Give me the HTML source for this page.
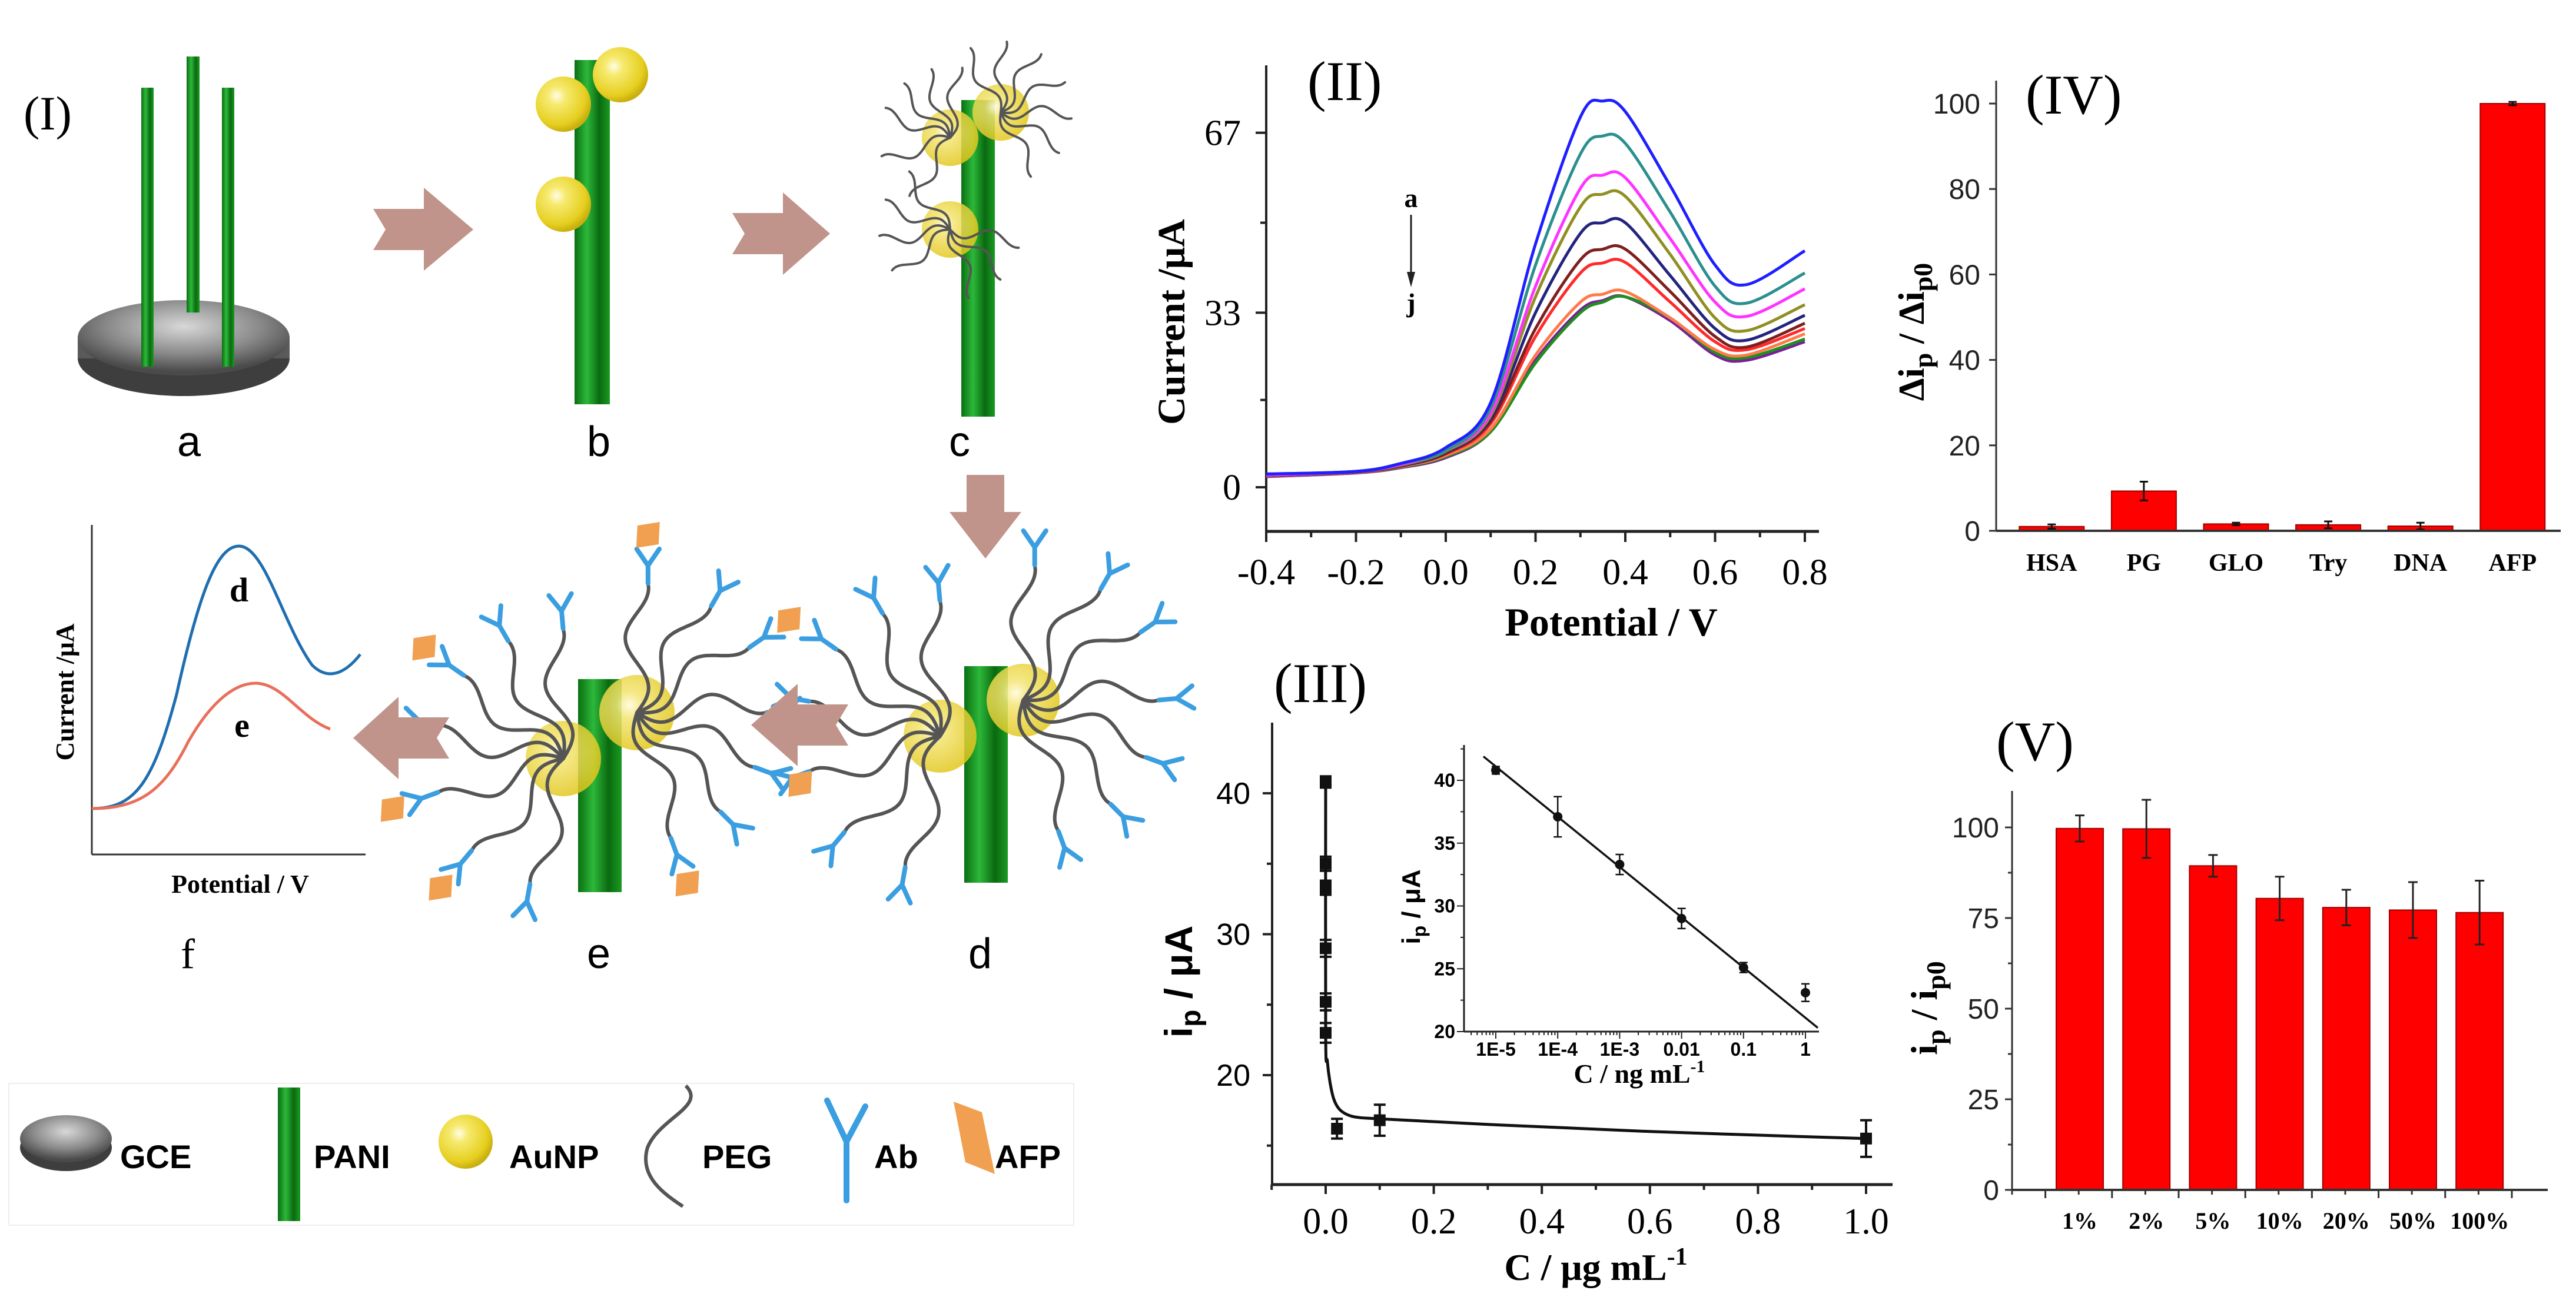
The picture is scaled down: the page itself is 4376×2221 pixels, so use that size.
<!DOCTYPE html>
<html><head><meta charset="utf-8">
<style>
html,body{margin:0;padding:0;background:#fff;}
svg{display:block;}
.serif{font-family:"Liberation Serif",serif;}
.sans{font-family:"Liberation Sans",sans-serif;}
</style></head>
<body>
<svg id="fig" xmlns="http://www.w3.org/2000/svg" width="4376" height="2221" viewBox="0 0 4376 2221">
<defs>
<linearGradient id="rodG" x1="0" y1="0" x2="1" y2="0">
<stop offset="0" stop-color="#0b6e12"/><stop offset="0.35" stop-color="#2db83a"/><stop offset="0.7" stop-color="#0a6a10"/><stop offset="1" stop-color="#1a9a22"/></linearGradient>
<radialGradient id="ballG" cx="0.38" cy="0.35" r="0.65">
<stop offset="0" stop-color="#fffde8"/><stop offset="0.25" stop-color="#f6ea70"/><stop offset="0.8" stop-color="#e6cf20"/><stop offset="1" stop-color="#c9b010"/></radialGradient>
<radialGradient id="ballG2" cx="0.4" cy="0.4" r="0.6">
<stop offset="0" stop-color="#fffbe0" stop-opacity="0.95"/><stop offset="0.3" stop-color="#f3e470" stop-opacity="0.85"/><stop offset="1" stop-color="#e2c820" stop-opacity="0.85"/></radialGradient>
<radialGradient id="diskG" cx="0.5" cy="0.35" r="0.6">
<stop offset="0" stop-color="#d8d8d8"/><stop offset="0.6" stop-color="#8a8a8a"/><stop offset="1" stop-color="#4a4a4a"/></radialGradient>
</defs>

<!-- ================= Panel I schematic ================= -->
<g id="panel1">
<text x="40" y="220" class="serif" font-size="82">(I)</text>

<g>
<ellipse cx="312" cy="609" rx="180" ry="64" fill="#3e3e3e"/>
<rect x="132" y="574" width="360" height="35" fill="#5a5a5a"/>
<ellipse cx="312" cy="574" rx="180" ry="64" fill="url(#diskG)"/>
<rect x="240" y="149" width="21" height="474" fill="url(#rodG)"/>
<rect x="317" y="96" width="22" height="435" fill="url(#rodG)"/>
<rect x="377" y="149" width="21" height="474" fill="url(#rodG)"/>
</g>
<text x="321" y="775" text-anchor="middle" class="sans" font-size="72">a</text>

<g>
<rect x="976" y="102" width="60" height="585" fill="url(#rodG)"/>
<circle cx="957" cy="177" r="47" fill="url(#ballG)"/>
<circle cx="1054" cy="127" r="47" fill="url(#ballG)"/>
<circle cx="957" cy="347" r="47" fill="url(#ballG)"/>
</g>
<text x="1017" y="775" text-anchor="middle" class="sans" font-size="72">b</text>

<g id="stepC">
<rect x="1633" y="170" width="57" height="538" fill="url(#rodG)"/>
<circle cx="1614" cy="234" r="48" fill="url(#ballG2)"/>
<circle cx="1700" cy="191" r="48" fill="url(#ballG2)"/>
<circle cx="1614" cy="390" r="48" fill="url(#ballG2)"/>
</g>
<text x="1630" y="775" text-anchor="middle" class="sans" font-size="72">c</text>

<g id="stepD">
<rect x="1638" y="1132" width="74" height="368" fill="url(#rodG)"/>
<circle cx="1597" cy="1251" r="62" fill="url(#ballG2)"/>
<circle cx="1738" cy="1190" r="62" fill="url(#ballG2)"/>
</g>
<text x="1665" y="1645" text-anchor="middle" class="sans" font-size="72">d</text>

<g id="stepE">
<rect x="982" y="1154" width="74" height="362" fill="url(#rodG)"/>
<circle cx="957" cy="1289" r="64" fill="url(#ballG2)"/>
<circle cx="1082" cy="1211" r="64" fill="url(#ballG2)"/>
</g>
<text x="1017" y="1645" text-anchor="middle" class="sans" font-size="72">e</text>

<g fill="#c0948a">
<polygon points="634,355 720,355 720,319 804,390 720,460 720,425 634,425 655,390"/>
<polygon points="1244,362 1330,362 1330,327 1410,397 1330,467 1330,432 1244,432 1265,397"/>
<polygon points="1642,807 1706,807 1706,870 1735,870 1674,949 1613,870 1642,870"/>
<polygon points="1441,1197 1355,1197 1355,1162 1276,1232 1355,1302 1355,1267 1441,1267 1420,1232"/>
<polygon points="763,1219 677,1219 677,1184 600,1254 677,1324 677,1289 763,1289 742,1254"/>
</g>

<g>
<line x1="156" y1="892" x2="156" y2="1452" stroke="#333" stroke-width="3"/>
<line x1="156" y1="1452" x2="621" y2="1452" stroke="#333" stroke-width="3"/>
<path d="M156,1374 C230,1374 260,1330 300,1180 C340,1000 370,928 406,928 C450,928 480,1060 530,1130 C560,1160 590,1140 612,1112" fill="none" stroke="#1f6eb0" stroke-width="5"/>
<path d="M156,1374 C240,1374 280,1340 320,1260 C360,1190 400,1161 434,1161 C480,1161 510,1220 561,1239" fill="none" stroke="#e8705a" stroke-width="5"/>
<text x="406" y="1022" text-anchor="middle" class="serif" font-weight="bold" font-size="58">d</text>
<text x="411" y="1252" text-anchor="middle" class="serif" font-weight="bold" font-size="58">e</text>
<text transform="translate(125,1176) rotate(-90)" text-anchor="middle" class="serif" font-weight="bold" font-size="44">Current /μA</text>
<text x="408" y="1517" text-anchor="middle" class="serif" font-weight="bold" font-size="44">Potential / V</text>
</g>
<text x="319" y="1645" text-anchor="middle" class="serif" font-size="72">f</text>

<g>
<rect x="15" y="1841" width="1809" height="241" fill="none" stroke="#eee" stroke-width="2"/>
<g>
<ellipse cx="112" cy="1950" rx="78" ry="40" fill="#3e3e3e"/>
<ellipse cx="112" cy="1935" rx="78" ry="40" fill="url(#diskG)"/>
<text x="204" y="1985" class="sans" font-weight="bold" font-size="56">GCE</text>
</g>
<g>
<rect x="472" y="1848" width="38" height="227" fill="url(#rodG)"/>
<text x="533" y="1985" class="sans" font-weight="bold" font-size="56">PANI</text>
</g>
<g>
<circle cx="791" cy="1940" r="46" fill="url(#ballG)"/>
<text x="865" y="1985" class="sans" font-weight="bold" font-size="56">AuNP</text>
</g>
<g>
<path d="M1165,1845 C1200,1880 1120,1900 1100,1950 C1085,2000 1130,2030 1160,2050" fill="none" stroke="#555" stroke-width="6"/>
<text x="1193" y="1985" class="sans" font-weight="bold" font-size="56">PEG</text>
</g>
<g>
<path d="M1438,2040 L1438,1940 L1405,1870 M1438,1940 L1470,1880" fill="none" stroke="#3a9ee0" stroke-width="10" stroke-linecap="round"/>
<text x="1485" y="1985" class="sans" font-weight="bold" font-size="56">Ab</text>
</g>
<g>
<polygon points="1620,1872 1668,1890 1690,1995 1640,1975" fill="#f0a050"/>
<text x="1690" y="1985" class="sans" font-weight="bold" font-size="56">AFP</text>
</g>
</g>
</g>

<!-- ================= Panel II ================= -->
<g id="panel2">
<text x="2221" y="170" class="serif" font-size="95">(II)</text>
<text transform="translate(2012,547) rotate(-90)" text-anchor="middle" class="serif" font-weight="bold" font-size="66">Current /μA</text>
<text x="2737" y="1080" text-anchor="middle" class="serif" font-weight="bold" font-size="68">Potential / V</text>
<text x="2397" y="352" text-anchor="middle" class="serif" font-weight="bold" font-size="46">a</text>
<line x1="2397" y1="365" x2="2397" y2="470" stroke="#222" stroke-width="3"/>
<polygon points="2390,462 2404,462 2397,488" fill="#222"/>
<text x="2397" y="530" text-anchor="middle" class="serif" font-weight="bold" font-size="46">j</text>
</g>

<!-- ================= Panel III ================= -->
<g id="panel3">
<text x="2164" y="1193" class="serif" font-size="95">(III)</text>
<text transform="translate(2025,1668) rotate(-90)" text-anchor="middle" class="sans" font-weight="bold" font-size="66">i<tspan font-size="48" dy="14">p</tspan><tspan dy="-14"> / μA</tspan></text>
<text x="2711" y="2175" text-anchor="middle" class="serif" font-weight="bold" font-size="64">C / μg mL<tspan font-size="42" dy="-26">-1</tspan></text>
<text transform="translate(2412,1541) rotate(-90)" text-anchor="middle" class="sans" font-weight="bold" font-size="44">i<tspan font-size="32" dy="10">p</tspan><tspan dy="-10"> / μA</tspan></text>
<text x="2785" y="1840" text-anchor="middle" class="serif" font-weight="bold" font-size="46">C / ng mL<tspan font-size="30" dy="-18">-1</tspan></text>
</g>

<!-- ================= Panel IV ================= -->
<g id="panel4">
<text x="3441" y="193" class="serif" font-size="95">(IV)</text>
<text transform="translate(3268,564) rotate(-90)" text-anchor="middle" class="serif" font-weight="bold" font-size="62">Δi<tspan font-size="46" dy="14">p</tspan><tspan dy="-14"> / Δi</tspan><tspan font-size="46" dy="14">p0</tspan></text>
</g>

<!-- ================= Panel V ================= -->
<g id="panel5">
<text x="3391" y="1292" class="serif" font-size="95">(V)</text>
<text transform="translate(3290,1713) rotate(-90)" text-anchor="middle" class="serif" font-weight="bold" font-size="64">i<tspan font-size="46" dy="14">p</tspan><tspan dy="-14"> / i</tspan><tspan font-size="46" dy="14">p0</tspan></text>
</g>
</svg>

<script>
// ---------- Panel II data ----------
const dpvPotentials = [-0.4,-0.2,-0.1,0,0.1,0.2,0.3,0.35,0.4,0.5,0.6,0.67,0.8];
const dpvA = [2.5,3,4.5,7.5,16,46,70,73,71,57,42,38.3,44.7];
const dpvB = [2.5,3,4.5,7,15,42,63,66.4,65,52,38,34.8,40.5];
const dpvC = [2.3,3,4.3,7,14,38,56.5,59,58.5,47,35,32.3,37.5];
const dpvD = [2.3,3,4.2,6.8,13.5,36,53,55.4,55,44,32,29.6,34.5];
const dpvE = [2.2,2.9,4.1,6.6,13,33,48,50,50,40,30,27.8,32.5];
const dpvF = [2.2,2.9,4,6.4,12.5,30,43,45,45,37,28.5,26.5,31];
const dpvG = [2.2,2.9,4,6.3,12,28.5,40.5,42.4,42.5,35,27.5,26,30];
const dpvH = [2.1,2.8,3.9,6,11,25,35,36.5,37,32,26,25,29];
const dpvI = [2.1,2.8,3.8,5.8,10.5,23.5,33,35,36,32,25.5,24.5,28];
const dpvJ = [2,2.7,3.7,5.6,10.5,24,33.5,35.3,36,31.5,25,24,27.5];
const dpvSeries = [dpvA,dpvB,dpvC,dpvD,dpvE,dpvF,dpvG,dpvH,dpvI,dpvJ];
const dpvColors = ['#1f1fff','#2b8f8f','#ff33ff','#8f8f22','#24247f','#7f1f1f','#ff2a2a','#ff7a4a','#1f8f1f','#7a1f9a'];
const dpvXTicks = [-0.4,-0.2,0.0,0.2,0.4,0.6,0.8];
const dpvYTicks = [0,33,67];

// ---------- Panel III data ----------
const calX = [0,0,0,0,0,0,0.01,0.1,1.0];
const calY = [40.8,35,33.3,29,25.2,23,16.2,16.8,15.5];
const calErr = [0.4,0.5,0.5,0.6,0.6,0.7,0.7,1.1,1.3];
const calFitX = [0,0,0.003,0.008,0.015,0.025,0.04,0.06,0.1,0.3,0.6,1.0];
const calFitY = [41,23,21,19.5,18.3,17.6,17.2,17.0,16.9,16.5,16.0,15.5];
const calXTicks = [0.0,0.2,0.4,0.6,0.8,1.0];
const calYTicks = [20,30,40];
const insetLogC = [-5,-4,-3,-2,-1,0];
const insetY = [40.8,37.1,33.3,29.0,25.1,23.1];
const insetErr = [0.3,1.6,0.8,0.8,0.4,0.7];
const insetFitLog = [-5.2,0.2];
const insetFitY = [41.9,20.3];
const insetXLabels = ['1E-5','1E-4','1E-3','0.01','0.1','1'];
const insetYTicks = [20,25,30,35,40];

// ---------- Panel IV data ----------
const selCats = ['HSA','PG','GLO','Try','DNA','AFP'];
const selVals = [1.0,9.3,1.6,1.4,1.1,100];
const selErr = [0.5,2.2,0.3,0.8,0.8,0.4];
const selYTicks = [0,20,40,60,80,100];

// ---------- Panel V data ----------
const stabCats = ['1%','2%','5%','10%','20%','50%','100%'];
const stabVals = [99.7,99.6,89.4,80.4,77.9,77.2,76.5];
const stabErr = [3.6,8.0,3.0,6.0,4.9,7.7,8.8];
const stabYTicks = [0,25,50,75,100];

const NS='http://www.w3.org/2000/svg';
function mk(tag,attrs,parent){const e=document.createElementNS(NS,tag);for(const k in attrs)e.setAttribute(k,attrs[k]);parent.appendChild(e);return e;}
function spline(pts){let d='M'+pts[0][0].toFixed(1)+','+pts[0][1].toFixed(1);
 for(let i=0;i<pts.length-1;i++){const p0=pts[i-1]||pts[i],p1=pts[i],p2=pts[i+1],p3=pts[i+2]||pts[i+1];
  const c1=[p1[0]+(p2[0]-p0[0])/6,p1[1]+(p2[1]-p0[1])/6],c2=[p2[0]-(p3[0]-p1[0])/6,p2[1]-(p3[1]-p1[1])/6];
  d+=' C'+c1[0].toFixed(1)+','+c1[1].toFixed(1)+' '+c2[0].toFixed(1)+','+c2[1].toFixed(1)+' '+p2[0].toFixed(1)+','+p2[1].toFixed(1);}
 return d;}

// ======== Panel II ========
(function(){
const g=document.getElementById('panel2');
const X=v=>2151+(v+0.4)*762.5, Y=v=>828-v*8.99;
let e=mk('line',{x1:2151,y1:111,x2:2151,y2:903,stroke:'#222','stroke-width':4},g);


e=mk('line',{x1:2151,y1:903,x2:3090,y2:903,stroke:'#222','stroke-width':5},g);


for(let v=-0.4;v<=0.801;v+=0.1){const major=Math.abs(Math.round(v*10))%2===0;
 const t=mk('line',{x1:X(v),y1:903,x2:X(v),y2:903+(major?18:10),stroke:'#222','stroke-width':4},g);
 
 }
dpvXTicks.forEach(v=>{const t=mk('text',{x:X(v),y:993,'text-anchor':'middle','font-size':62,class:'serif'},g);t.textContent=v.toFixed(1);
 
 });
[0,16.5,33,50,67].forEach(v=>{const major=dpvYTicks.includes(v);
 const t=mk('line',{x1:2151-(major?18:10),y1:Y(v),x2:2151,y2:Y(v),stroke:'#222','stroke-width':4},g);
 
 });
dpvYTicks.forEach(v=>{const t=mk('text',{x:2108,y:Y(v)+21,'text-anchor':'end','font-size':62,class:'serif'},g);t.textContent=v;
 
 });
for(let s=dpvSeries.length-1;s>=0;s--){const pts=dpvPotentials.map((p,i)=>[X(p),Y(dpvSeries[s][i])]);
 const p=mk('path',{d:spline(pts),fill:'none',stroke:dpvColors[s],'stroke-width':5},g);
 
 }
})();

// ======== Panel III ========
(function(){
const g=document.getElementById('panel3');
const X=v=>2252+v*918, Y=v=>1348-(v-40)*23.95;
let e=mk('line',{x1:2161,y1:1228,x2:2161,y2:2013,stroke:'#222','stroke-width':4},g);


e=mk('line',{x1:2161,y1:2013,x2:3215,y2:2013,stroke:'#222','stroke-width':5},g);


for(let v=-0.1;v<=1.001;v+=0.1){const major=Math.abs(Math.round(v*10))%2===0;
 const t=mk('line',{x1:X(v),y1:2013,x2:X(v),y2:2013+(major?16:9),stroke:'#222','stroke-width':4},g);
 
 }
calXTicks.forEach(v=>{const t=mk('text',{x:X(v),y:2096,'text-anchor':'middle','font-size':62,class:'serif'},g);t.textContent=v.toFixed(1);
 
 });
[15,20,25,30,35,40].forEach(v=>{const major=calYTicks.includes(v);
 const t=mk('line',{x1:2161-(major?16:9),y1:Y(v),x2:2161,y2:Y(v),stroke:'#222','stroke-width':4},g);
 
 });
calYTicks.forEach(v=>{const t=mk('text',{x:2124,y:Y(v)+18,'text-anchor':'end','font-size':52,class:'sans'},g);t.textContent=v;
 
 });
const fp=mk('path',{d:spline(calFitX.map((x,i)=>[X(x),Y(calFitY[i])])),fill:'none',stroke:'#111','stroke-width':5},g);


calX.forEach((x,i)=>{const cx=X(x)+(x===0.01?10:0),cy=Y(calY[i]);
 const eb=mk('path',{d:`M${cx},${Y(calY[i]+calErr[i])} V${Y(calY[i]-calErr[i])} M${cx-10},${Y(calY[i]+calErr[i])} h20 M${cx-10},${Y(calY[i]-calErr[i])} h20`,stroke:'#111','stroke-width':4,fill:'none'},g);
 
 
 const m=mk('rect',{x:cx-10,y:cy-10,width:20,height:20,fill:'#111'},g);
 
 });
// inset
const LX=l=>2541+(l+5)*105.2, LY=v=>1753-(v-20)*21.35;
e=mk('line',{x1:2487,y1:1266,x2:2487,y2:1753,stroke:'#222','stroke-width':3},g);


e=mk('line',{x1:2487,y1:1753,x2:3090,y2:1753,stroke:'#222','stroke-width':3},g);


for(let d=-6;d<=0;d++){for(let k=1;k<=9;k++){const l=d+Math.log10(k);if(l<-5.5||l>0.3)continue;
 const t=mk('line',{x1:LX(l),y1:1753,x2:LX(l),y2:1753+(k===1?12:6),stroke:'#222','stroke-width':2},g);
 
 }}
insetLogC.forEach((l,i)=>{const t=mk('text',{x:LX(l),y:1794,'text-anchor':'middle','font-size':32,'font-weight':'bold',class:'sans'},g);t.textContent=insetXLabels[i];
 
 });
for(let v=20;v<=42.5;v+=2.5){const major=v%5===0;
 const t=mk('line',{x1:2487-(major?12:6),y1:LY(v),x2:2487,y2:LY(v),stroke:'#222','stroke-width':2},g);
 
 }
insetYTicks.forEach(v=>{const t=mk('text',{x:2472,y:LY(v)+11,'text-anchor':'end','font-size':32,'font-weight':'bold',class:'sans'},g);t.textContent=v;
 
 });
e=mk('line',{x1:LX(insetFitLog[0]),y1:LY(insetFitY[0]),x2:LX(insetFitLog[1]),y2:LY(insetFitY[1]),stroke:'#111','stroke-width':3.5},g);


insetLogC.forEach((l,i)=>{const cx=LX(l),cy=LY(insetY[i]);
 const eb=mk('path',{d:`M${cx},${LY(insetY[i]+insetErr[i])} V${LY(insetY[i]-insetErr[i])} M${cx-7},${LY(insetY[i]+insetErr[i])} h14 M${cx-7},${LY(insetY[i]-insetErr[i])} h14`,stroke:'#111','stroke-width':2.5,fill:'none'},g);
 
 
 const m=mk('circle',{cx:cx,cy:cy,r:8,fill:'#111'},g);
 
 });
})();

// ======== Panel IV ========
(function(){
const g=document.getElementById('panel4');
const Y=v=>902-v*7.26, C=i=>3407+(i+0.5)*156.6;
let e=mk('line',{x1:3391,y1:137,x2:3391,y2:902,stroke:'#333','stroke-width':3},g);


selYTicks.forEach(v=>{const t=mk('line',{x1:3379,y1:Y(v),x2:3391,y2:Y(v),stroke:'#333','stroke-width':3},g);
 
 
 const l=mk('text',{x:3364,y:Y(v)+17,'text-anchor':'end','font-size':48,class:'sans',fill:'#222'},g);l.textContent=v;
 
 });
selCats.forEach((c,i)=>{const x=C(i);
 const b=mk('rect',{x:x-55,y:Y(selVals[i]),width:110,height:Y(0)-Y(selVals[i]),fill:'#ff0000',stroke:'#a00000','stroke-width':2},g);
 
 
 const eb=mk('path',{d:`M${x},${Y(selVals[i]+selErr[i])} V${Y(selVals[i]-selErr[i])} M${x-7},${Y(selVals[i]+selErr[i])} h14 M${x-7},${Y(selVals[i]-selErr[i])} h14`,stroke:'#111','stroke-width':3,fill:'none'},g);
 
 
 const t=mk('text',{x:x,y:970,'text-anchor':'middle','font-size':42,'font-weight':'bold',class:'serif'},g);t.textContent=c;
 
 });
e=mk('line',{x1:3391,y1:902,x2:4350,y2:902,stroke:'#333','stroke-width':4},g);


})();

// ======== Panel V ========
(function(){
const g=document.getElementById('panel5');
const Y=v=>2022-v*6.16, C=i=>3476.4+(i+0.5)*113.2;
let e=mk('line',{x1:3418,y1:1344,x2:3418,y2:2022,stroke:'#333','stroke-width':3},g);


for(let v=0;v<=110;v+=12.5){const major=v%25===0;
 const t=mk('line',{x1:3418-(major?12:7),y1:Y(v),x2:3418,y2:Y(v),stroke:'#333','stroke-width':3},g);
 
 }
stabYTicks.forEach(v=>{const l=mk('text',{x:3396,y:Y(v)+17,'text-anchor':'end','font-size':48,class:'sans',fill:'#222'},g);l.textContent=v;
 
 });
for(let k=0;k<=15;k++){const x=3418+k*56.6;if(x>4328)break;
 const t=mk('line',{x1:x,y1:2022,x2:x,y2:2022+(k%2===1?14:8),stroke:'#333','stroke-width':3},g);
 
 }
stabCats.forEach((c,i)=>{const x=C(i);
 const b=mk('rect',{x:x-40,y:Y(stabVals[i]),width:80,height:Y(0)-Y(stabVals[i]),fill:'#ff0000',stroke:'#a00000','stroke-width':2},g);
 
 
 const eb=mk('path',{d:`M${x},${Y(stabVals[i]+stabErr[i])} V${Y(stabVals[i]-stabErr[i])} M${x-8},${Y(stabVals[i]+stabErr[i])} h16 M${x-8},${Y(stabVals[i]-stabErr[i])} h16`,stroke:'#222','stroke-width':3,fill:'none'},g);
 
 
 const t=mk('text',{x:x,y:2088,'text-anchor':'middle','font-size':40,'font-weight':'bold',class:'serif'},g);t.textContent=c;
 
 });
e=mk('line',{x1:3418,y1:2022,x2:4328,y2:2022,stroke:'#333','stroke-width':4},g);


})();

// ======== Schematic decorations (PEG chains, antibodies, AFP) ========
function wavy(x,y,ang,len,amp,waves){const pts=[];const n=24;const ca=Math.cos(ang),sa=Math.sin(ang);
 for(let i=0;i<=n;i++){const t=i/n*len;const o=amp*Math.sin(i/n*waves*2*Math.PI);pts.push([x+ca*t-sa*o,y+sa*t+ca*o]);}
 return pts;}
function drawChains(gid,centers,specs,withAb,withAfp,len,sw){const g=document.getElementById(gid);
 specs.forEach((s,k)=>{const c=centers[s[0]];const a=s[1]*Math.PI/180;const L=len*(s[2]||1);
  const pts=wavy(c[0],c[1],a,L,len*0.09,1.3);
  const p=mk('path',{d:spline(pts),fill:'none',stroke:'#555','stroke-width':sw,'stroke-linecap':'round'},g);
  
  
  if(withAb){const e=pts[pts.length-1];const ex=e[0]+Math.cos(a)*30,ey=e[1]+Math.sin(a)*30;
   const a1=a-0.6,a2=a+0.6;
   const y=mk('path',{d:`M${e[0]},${e[1]} L${ex},${ey} L${ex+Math.cos(a1)*34},${ey+Math.sin(a1)*34} M${ex},${ey} L${ex+Math.cos(a2)*34},${ey+Math.sin(a2)*34}`,fill:'none',stroke:'#3a9ee0','stroke-width':8,'stroke-linecap':'round'},g);
   
   
   if(withAfp && k%2===0){const fx=ex+Math.cos(a)*52,fy=ey+Math.sin(a)*52;
    const d=mk('polygon',{points:`${fx-18},${fy-16} ${fx+20},${fy-22} ${fx+18},${fy+16} ${fx-20},${fy+22}`,fill:'#f0a050'},g);
    
    }}});}
drawChains('stepC',[[1614,234],[1700,191],[1614,390]],
 [[0,200],[0,225],[0,250],[0,275],[0,160],[1,300],[1,330],[1,0],[1,30],[1,270],[1,240],[2,140],[2,170],[2,200],[2,230],[2,40],[2,70],[2,10],[0,120],[1,60]],false,false,120,4);
drawChains('stepD',[[1597,1251],[1738,1190]],
 [[0,160],[0,190],[0,215],[0,240],[0,130],[0,100],[1,270],[1,300],[1,325],[1,355],[1,20],[1,45],[1,70],[0,265]],true,false,230,6);
drawChains('stepE',[[957,1289],[1082,1211]],
 [[0,160],[0,190],[0,215],[0,240],[0,130],[0,100],[1,270],[1,300],[1,325],[1,355],[1,20],[1,45],[1,70],[0,265]],true,true,220,6);
</script>
</body></html>
